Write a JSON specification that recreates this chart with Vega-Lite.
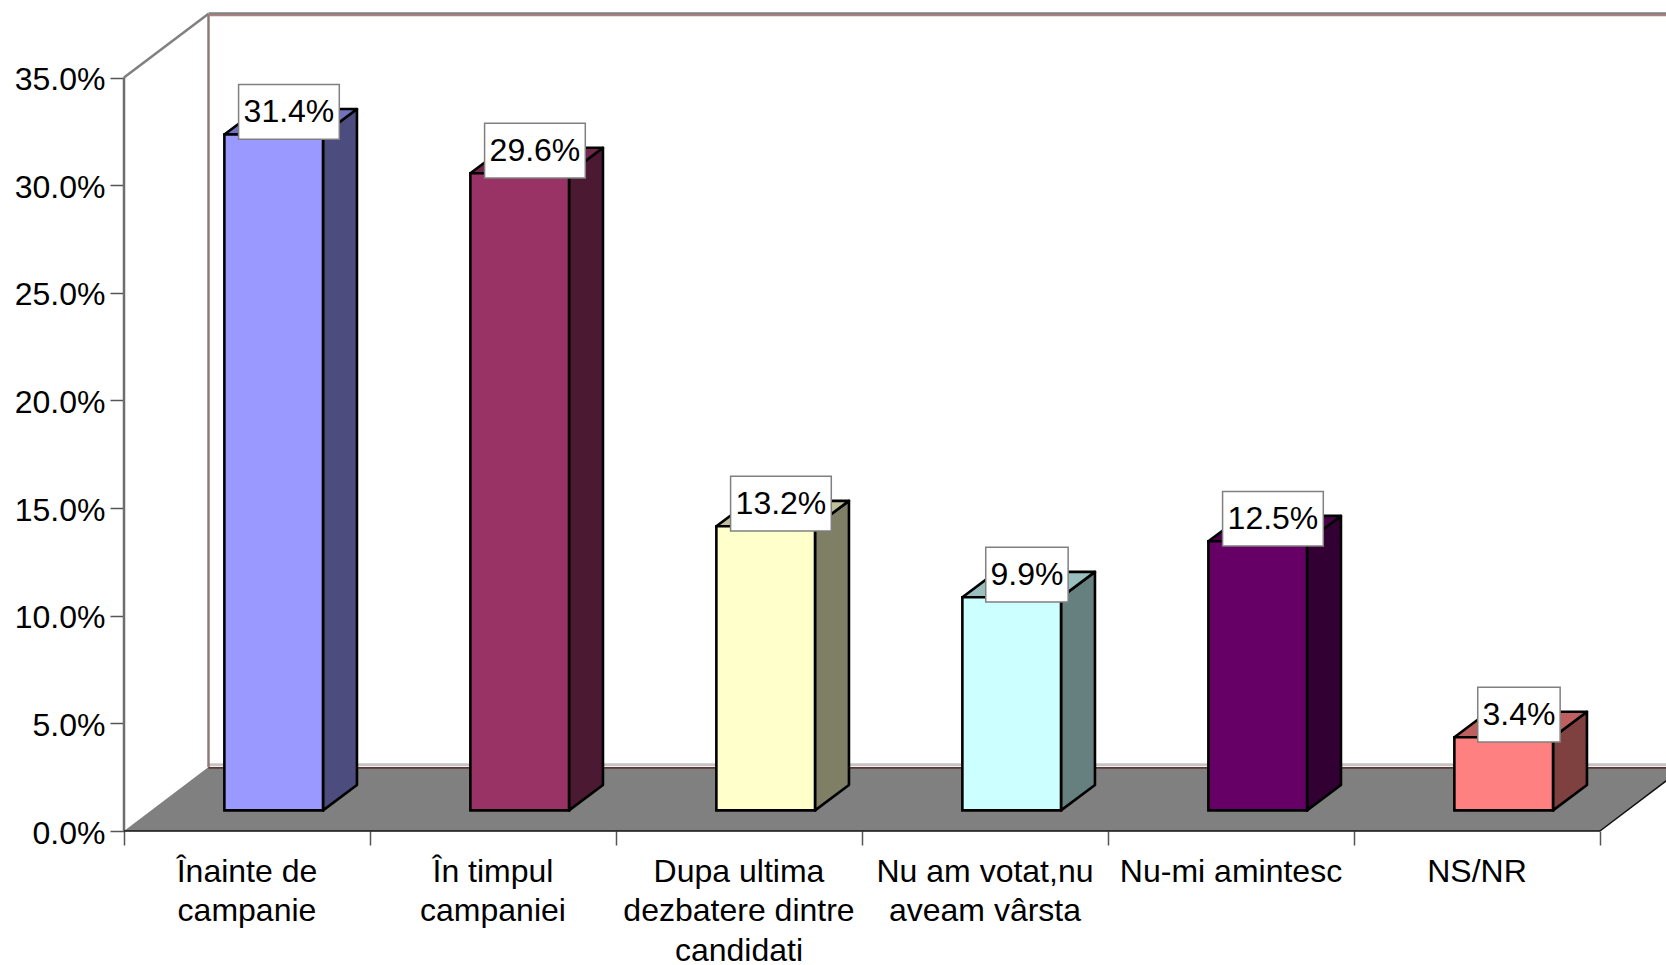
{
"$schema":"https://vega.github.io/schema/vega-lite/v6.json",
"width":1542,"height":818,
"autosize":{"type":"none"},
"padding":{"left":124,"top":13,"right":0,"bottom":134},
"background":"white",
"config":{"view":{"stroke":null},"font":"Liberation Sans",
 "axis":{"grid":false,"title":null},
 "axisX":{"labels":false,"domain":false,"tickSize":14,"tickColor":"#555555","tickWidth":1.5},
 "axisY":{"domain":false,"tickSize":14,"tickColor":"#555555","tickWidth":1.5,"labelFont":"Liberation Sans","labelFontSize":32,"labelColor":"#000000","labelPadding":5,"labelOffset":2}},
"datasets":{"answers":[
 {"order":0,"category":"Înainte de campanie","label":"Înainte de\ncampanie","value":31.4},
 {"order":1,"category":"În timpul campaniei","label":"În timpul\ncampaniei","value":29.6},
 {"order":2,"category":"Dupa ultima dezbatere dintre candidati","label":"Dupa ultima\ndezbatere dintre\ncandidati","value":13.2},
 {"order":3,"category":"Nu am votat,nu aveam vârsta","label":"Nu am votat,nu\naveam vârsta","value":9.9},
 {"order":4,"category":"Nu-mi amintesc","label":"Nu-mi amintesc","value":12.5},
 {"order":5,"category":"NS/NR","label":"NS/NR","value":3.4}
]},
"data":{"name":"answers"},
"layer":[
 {"data":{"values":[{"x":0,"y":0,"y2":0},{"x":0.3435,"y":0,"y2":2.97},{"x":6,"y":0,"y2":2.97},{"x":6.3435,"y":2.97,"y2":2.97}]},
  "mark":{"type":"area","orient":"vertical","fill":"#808080","stroke":null},
  "encoding":{
   "x":{"field":"x","type":"quantitative","scale":{"domain":[0,6.2683],"nice":false,"zero":false},"axis":{"values":[0,1,2,3,4,5,6],"title":null}},
   "y":{"field":"y","type":"quantitative","scale":{"domain":[0,38.0],"nice":false},"axis":{"values":[0,5,10,15,20,25,30,35],"labelExpr":"format(datum.value,'.1f')+'%'","title":null}},
   "y2":{"field":"y2"}}},
 {"data":{"values":[{}]},"mark":{"type":"rule","stroke":"#c4c4c4","strokeWidth":3},
  "encoding":{"x":{"datum":0.3435,"type":"quantitative"},"x2":{"datum":6.2683},"y":{"datum":3.08,"type":"quantitative"}}},
 {"data":{"values":[{}]},"mark":{"type":"rule","stroke":"#400000","strokeWidth":1},
  "encoding":{"x":{"datum":0.3435,"type":"quantitative"},"x2":{"datum":6.2683},"y":{"datum":2.93,"type":"quantitative"}}},
 {"data":{"values":[{}]},"mark":{"type":"rule","stroke":"#8f7a7a","strokeWidth":2.5},
  "encoding":{"x":{"datum":0.3435,"type":"quantitative"},"y":{"datum":2.97,"type":"quantitative"},"y2":{"datum":37.95}}},
 {"data":{"values":[{}]},"mark":{"type":"rule","stroke":"#b87c7c","strokeWidth":2},
  "encoding":{"x":{"datum":0.3435,"type":"quantitative"},"x2":{"datum":6.2683},"y":{"datum":37.9,"type":"quantitative"}}},
 {"data":{"values":[{}]},"mark":{"type":"rule","stroke":"#808080","strokeWidth":2.5},
  "encoding":{"x":{"datum":0.3435,"type":"quantitative"},"x2":{"datum":6.2683},"y":{"datum":37.98,"type":"quantitative"}}},
 {"data":{"values":[{}]},"mark":{"type":"rule","stroke":"#808080","strokeWidth":2.5},
  "encoding":{"x":{"datum":0,"type":"quantitative"},"x2":{"datum":0.3435},"y":{"datum":35,"type":"quantitative"},"y2":{"datum":37.97}}},
 {"data":{"values":[{}]},"mark":{"type":"rule","stroke":"#6e6e6e","strokeWidth":2.5},
  "encoding":{"x":{"datum":0,"type":"quantitative"},"y":{"datum":0,"type":"quantitative"},"y2":{"datum":35}}},
 {"data":{"values":[{}]},"mark":{"type":"rule","stroke":"#111111","strokeWidth":1.5},
  "encoding":{"x":{"datum":0,"type":"quantitative"},"x2":{"datum":6},"y":{"datum":0,"type":"quantitative"}}},
 {"data":{"values":[{}]},"mark":{"type":"rule","stroke":"#111111","strokeWidth":1.5},
  "encoding":{"x":{"datum":6,"type":"quantitative"},"x2":{"datum":6.3435},"y":{"datum":0,"type":"quantitative"},"y2":{"datum":2.97}}},
 {"transform":[
   {"calculate":"[0,1]","as":"t"},{"flatten":["t"]},
   {"calculate":"datum.order+0.809+datum.t*0.138","as":"x"},
   {"calculate":"0.957+datum.t*1.18","as":"y"},
   {"calculate":"0.957+datum.value+datum.t*1.18","as":"y2"}],
  "mark":{"type":"area","orient":"vertical","stroke":null},
  "encoding":{
   "x":{"field":"x","type":"quantitative"},
   "y":{"field":"y","type":"quantitative"},
   "y2":{"field":"y2"},
   "fill":{"field":"category","type":"nominal","legend":null,"sort":null,
    "scale":{"domain":["Înainte de campanie","În timpul campaniei","Dupa ultima dezbatere dintre candidati","Nu am votat,nu aveam vârsta","Nu-mi amintesc","NS/NR"],
     "range":["#9999FF","#993366","#FFFFCC","#CCFFFF","#660066","#FF8080"]}}}},
 {"transform":[
   {"calculate":"[0,1]","as":"t"},{"flatten":["t"]},
   {"calculate":"datum.order+0.809+datum.t*0.138","as":"x"},
   {"calculate":"0.957+datum.t*1.18","as":"y"},
   {"calculate":"0.957+datum.value+datum.t*1.18","as":"y2"}],
  "mark":{"type":"area","orient":"vertical","fill":"#000000","fillOpacity":0.5,"stroke":"#000000","strokeWidth":2.6,"strokeJoin":"round"},
  "encoding":{
   "x":{"field":"x","type":"quantitative"},
   "y":{"field":"y","type":"quantitative"},
   "y2":{"field":"y2"},
   "detail":{"field":"category"}}},
 {"transform":[
   {"calculate":"[0,1,2,3]","as":"t"},{"flatten":["t"]},
   {"calculate":"datum.order+0.408+[0,0.138,0.401,0.539][datum.t]","as":"x"},
   {"calculate":"0.957+datum.value+[0,0,0,1.18][datum.t]","as":"y"},
   {"calculate":"0.957+datum.value+[0,1.18,1.18,1.18][datum.t]","as":"y2"}],
  "mark":{"type":"area","orient":"vertical","stroke":null},
  "encoding":{
   "x":{"field":"x","type":"quantitative"},
   "y":{"field":"y","type":"quantitative"},
   "y2":{"field":"y2"},
   "fill":{"field":"category","type":"nominal","legend":null}}},
 {"transform":[
   {"calculate":"[0,1,2,3]","as":"t"},{"flatten":["t"]},
   {"calculate":"datum.order+0.408+[0,0.138,0.401,0.539][datum.t]","as":"x"},
   {"calculate":"0.957+datum.value+[0,0,0,1.18][datum.t]","as":"y"},
   {"calculate":"0.957+datum.value+[0,1.18,1.18,1.18][datum.t]","as":"y2"}],
  "mark":{"type":"area","orient":"vertical","fill":"#000000","fillOpacity":0.25,"stroke":"#000000","strokeWidth":2.6,"strokeJoin":"round"},
  "encoding":{
   "x":{"field":"x","type":"quantitative"},
   "y":{"field":"y","type":"quantitative"},
   "y2":{"field":"y2"},
   "detail":{"field":"category"}}},
 {"transform":[
   {"calculate":"datum.order+0.408","as":"x"},
   {"calculate":"datum.order+0.809","as":"x2"},
   {"calculate":"0.957","as":"y"},
   {"calculate":"0.957+datum.value","as":"y2"}],
  "mark":{"type":"rect","stroke":"#000000","strokeWidth":2.6},
  "encoding":{
   "x":{"field":"x","type":"quantitative"},"x2":{"field":"x2"},
   "y":{"field":"y","type":"quantitative"},"y2":{"field":"y2"},
   "fill":{"field":"category","type":"nominal","legend":null}}},
 {"transform":[
   {"calculate":"datum.value>=10?0.2047:0.1675","as":"hw"},
   {"calculate":"datum.order+0.6705-datum.hw","as":"x"},
   {"calculate":"datum.order+0.6705+datum.hw","as":"x2"},
   {"calculate":"datum.value+0.957+1.05-1.27","as":"y"},
   {"calculate":"datum.value+0.957+1.05+1.27","as":"y2"}],
  "mark":{"type":"rect","fill":"#ffffff","stroke":"#808080","strokeWidth":1.5},
  "encoding":{
   "x":{"field":"x","type":"quantitative"},"x2":{"field":"x2"},
   "y":{"field":"y","type":"quantitative"},"y2":{"field":"y2"}}},
 {"transform":[
   {"calculate":"datum.order+0.6705","as":"x"},
   {"calculate":"datum.value+0.957+1.05","as":"y"},
   {"calculate":"format(datum.value,'.1f')+'%'","as":"text"}],
  "mark":{"type":"text","font":"Liberation Sans","fontSize":32,"color":"#000000","align":"center","baseline":"middle","dy":0},
  "encoding":{
   "x":{"field":"x","type":"quantitative"},
   "y":{"field":"y","type":"quantitative"},
   "text":{"field":"text"}}},
 {"transform":[
   {"calculate":"datum.order+0.5","as":"x"},
   {"calculate":"0","as":"y"}],
  "mark":{"type":"text","font":"Liberation Sans","fontSize":32,"color":"#000000","align":"center","baseline":"alphabetic","lineBreak":"\n","lineHeight":39.3,"dy":51},
  "encoding":{
   "x":{"field":"x","type":"quantitative"},
   "y":{"field":"y","type":"quantitative"},
   "text":{"field":"label"}}}
]}
